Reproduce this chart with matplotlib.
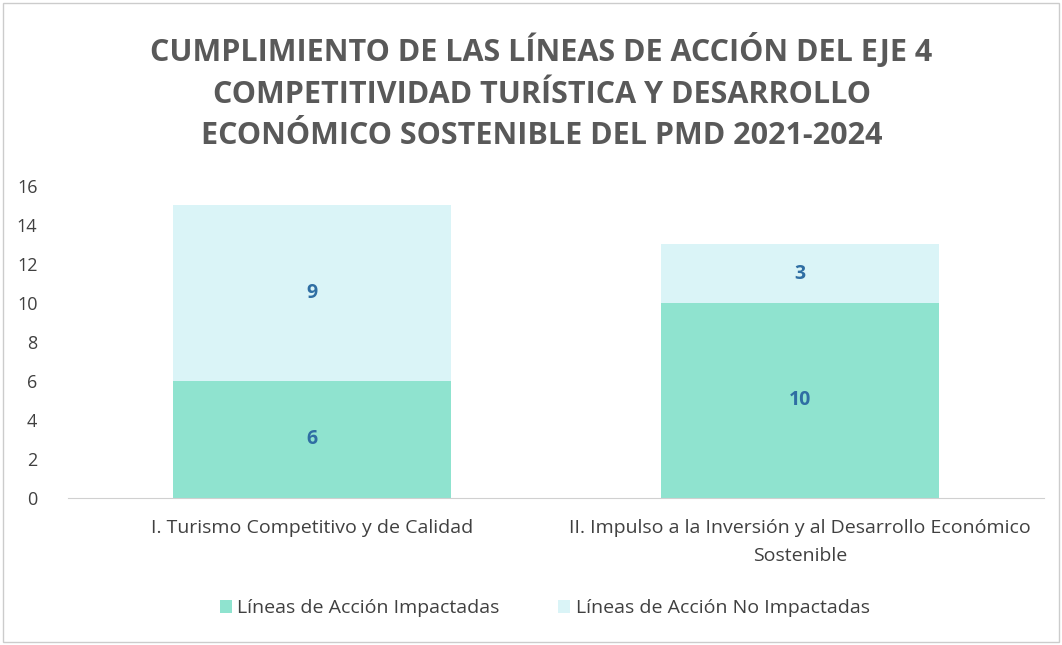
import matplotlib.pyplot as plt
import numpy as np

categories = ["I. Turismo Competitivo y de Calidad",
              "II. Impulso a la Inversión y al Desarrollo Económico\nSostenible"]
impactadas = [6, 10]
no_impactadas = [9, 3]
series_names = ["Líneas de Acción Impactadas", "Líneas de Acción No Impactadas"]

plt.rcParams['font.family'] = ['Open Sans', 'DejaVu Sans']

fig = plt.figure(figsize=(10.62, 6.45), dpi=100)
ax = fig.add_axes([0.064, 0.228, 0.919, 0.484])

x = np.arange(len(categories))
w = 0.57
b1 = ax.bar(x, impactadas, w, color="#8fe3cf", label=series_names[0])
b2 = ax.bar(x, no_impactadas, w, bottom=impactadas, color="#daf4f7", label=series_names[1])

for bars, vals, base in [(b1, impactadas, [0, 0]), (b2, no_impactadas, impactadas)]:
    for r, v, b0 in zip(bars, vals, base):
        ax.text(r.get_x() + r.get_width() / 2, b0 + v / 2, str(v), ha="center", va="center",
                fontsize=14, fontweight="bold", color="#2f6ea3")

ax.set_xlim(-0.5, 1.5)
ax.set_ylim(0, 16)
ax.set_yticks(range(0, 17, 2))
ax.set_xticks(x)
ax.set_xticklabels(categories, fontsize=14, color="#404040", linespacing=1.7)
ax.tick_params(axis="y", labelsize=13, colors="#404040", length=0, pad=22)
ax.tick_params(axis="x", length=0, pad=15)
for s in ["top", "right", "left"]:
    ax.spines[s].set_visible(False)
ax.spines["bottom"].set_color("#d0d0d0")

fig.text(0.51, 0.857, "CUMPLIMIENTO DE LAS LÍNEAS DE ACCIÓN DEL EJE 4\nCOMPETITIVIDAD TURÍSTICA Y DESARROLLO\nECONÓMICO SOSTENIBLE DEL PMD 2021-2024",
         ha="center", va="center", fontsize=22, fontweight="bold", color="#595959", linespacing=1.5)

fig.legend(handles=[b1, b2], loc="center", bbox_to_anchor=(0.513, 0.057), ncol=2, frameon=False,
           fontsize=14, handlelength=0.6, handleheight=0.6, columnspacing=3, handletextpad=0.3,
           labelcolor="#404040")

fig.patches.append(plt.Rectangle((0.003, 0.005), 0.994, 0.99, transform=fig.transFigure,
                                 fill=False, edgecolor="#cccccc", linewidth=1))

fig.savefig("out.png", dpi=100)
